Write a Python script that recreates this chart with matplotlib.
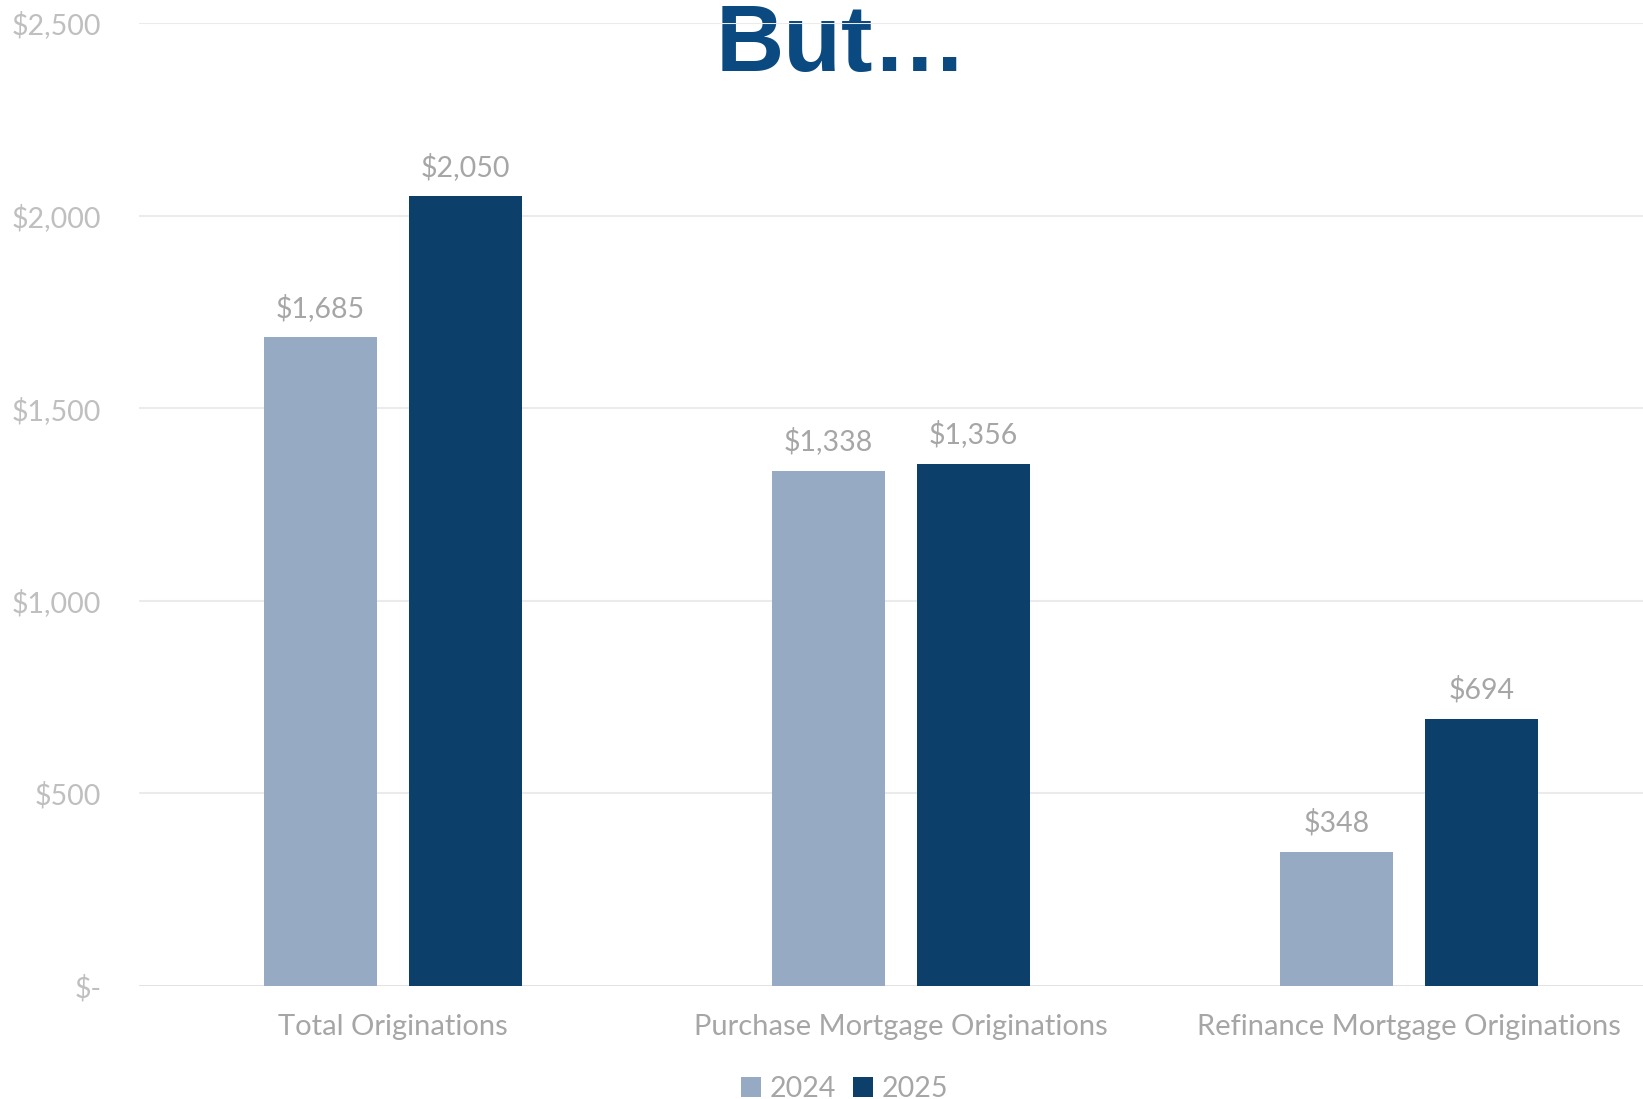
import matplotlib
matplotlib.use('Agg')
import numpy as np
import matplotlib.pyplot as plt

# 카테고리와 연도별 값 (단위: $B)
categories = ['Total Originations', 'Purchase Mortgage Originations', 'Refinance Mortgage Originations']
vals_2024 = [1685, 1338, 348]
vals_2025 = [2050, 1356, 694]
series_names = ['2024', '2025']
ytick_vals = [0, 500, 1000, 1500, 2000, 2500]
ytick_labels = ['$-', '$500', '$1,000', '$1,500', '$2,000', '$2,500']

c_2024 = '#97AAC3'
c_2025 = '#0D3F6B'
gray_txt = '#A6A6A6'
plt.rcParams['font.family'] = ['Lato', 'DejaVu Sans']

fig = plt.figure(figsize=(16.43, 10.99), dpi=100)
ax = fig.add_axes([0.0846, 0.1028, 0.9276, 0.8763])
ax.patch.set_visible(False)

x = np.arange(len(categories))
w = 0.223
off = w / 2 + 0.031
b1 = ax.bar(x - off, vals_2024, w, color=c_2024, label=series_names[0], zorder=3)
b2 = ax.bar(x + off, vals_2025, w, color=c_2025, label=series_names[1], zorder=3)

# 막대 위 값 표시
for bars, vals in ((b1, vals_2024), (b2, vals_2025)):
    for rect, v in zip(bars, vals):
        ax.annotate(f'${v:,}', (rect.get_x() + rect.get_width() / 2, v),
                    xytext=(0, 11), textcoords='offset points',
                    ha='center', va='bottom', fontsize=20.5, color=gray_txt)

ax.set_xlim(-0.5, 2.5)
ax.set_ylim(0, 2500)
ax.set_yticks(ytick_vals)
ax.set_yticklabels(ytick_labels)
ax.set_xticks(x)
ax.set_xticklabels(categories)
ax.tick_params(axis='y', length=0, pad=27, labelsize=20.5, labelcolor='#BFBFBF')
ax.tick_params(axis='x', length=0, pad=20, labelsize=21, labelcolor=gray_txt)
ax.yaxis.grid(True, color='#EBEBEB', linewidth=1.5, zorder=0)
ax.set_axisbelow(True)
for s in ax.spines.values():
    s.set_visible(False)
ax.axhline(0, color='#E3E3E3', linewidth=2, zorder=2)

leg = ax.legend(loc='center', bbox_to_anchor=(0.463, -0.107), ncol=2, frameon=False,
                fontsize=20.5, handlelength=0.7, handleheight=0.7, handletextpad=0.3,
                columnspacing=0.6)
for t in leg.get_texts():
    t.set_color(gray_txt)

# 제목 (격자선 아래에 그려짐)
fig.text(0.512, 0.935, 'But…', ha='center', va='baseline', fontsize=68,
         fontweight='bold', family='Liberation Sans', color='#0B4A80', zorder=-1)

fig.savefig('out.png', dpi=100)
